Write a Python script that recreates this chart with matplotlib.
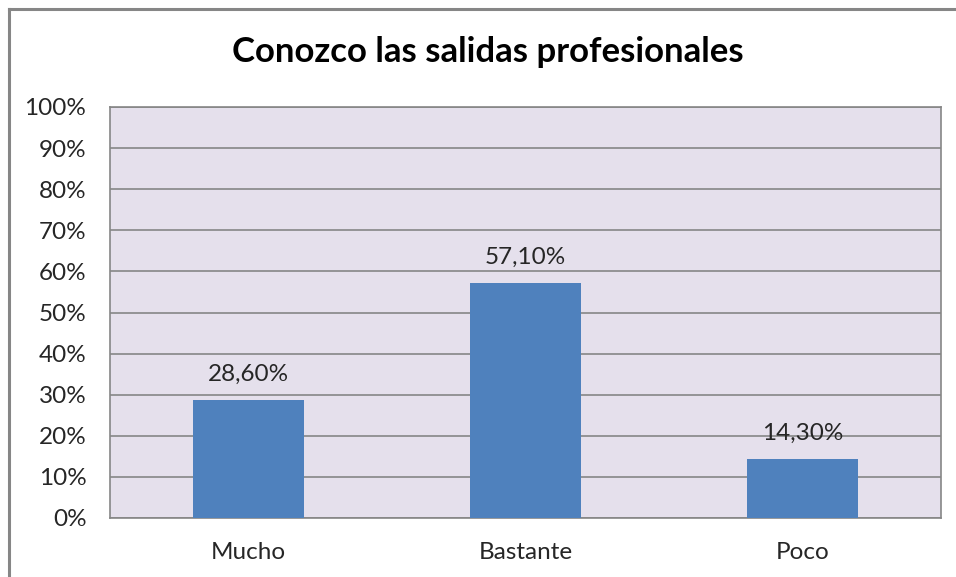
import matplotlib.pyplot as plt
import numpy as np
from matplotlib.lines import Line2D

categories = ['Mucho', 'Bastante', 'Poco']
values = [28.6, 57.1, 14.3]
labels = ['28,60%', '57,10%', '14,30%']
yticks = list(range(0, 101, 10))

plt.rcParams['font.family'] = ['Lato', 'DejaVu Sans']

fig = plt.figure(figsize=(9.56, 5.77), dpi=100)
W, H = 956, 577
ax = fig.add_axes([110 / W, 1 - 518 / H, (941 - 110) / W, (518 - 107) / H])

ax.set_facecolor('#E5E0EC')
x = np.arange(len(categories))
ax.bar(x, values, width=0.4, color='#4F81BD', zorder=3)
for xi, v, lab in zip(x, values, labels):
    ax.annotate(lab, (xi, v), xytext=(0, 11), textcoords='offset points',
                ha='center', va='bottom', fontsize=17.5, color='#262626')

ax.set_xlim(-0.5, 2.5)
ax.set_ylim(0, 100)
ax.set_yticks(yticks)
ax.set_yticklabels([f'{t}%' for t in yticks])
ax.set_xticks(x)
ax.set_xticklabels(categories)
ax.tick_params(axis='both', length=0, labelsize=17.5, colors='#262626')
ax.tick_params(axis='y', pad=17)
ax.tick_params(axis='x', pad=17)
ax.grid(axis='y', color='#868686', linewidth=1.2, zorder=1)
for s in ax.spines.values():
    s.set_color('#868686')
    s.set_linewidth(1.2)

fig.text(488 / W, 1 - 52 / H, 'Conozco las salidas profesionales',
         ha='center', va='center', fontsize=25, fontweight='bold', color='black')

# outer chart frame (only left and top edges are visible in the crop)
fig.add_artist(Line2D([8.5 / W, 8.5 / W], [0, 1 - 8.5 / H], color='#868686', linewidth=2.2,
                      transform=fig.transFigure))
fig.add_artist(Line2D([8.5 / W, 1], [1 - 8.5 / H, 1 - 8.5 / H], color='#868686', linewidth=2.2,
                      transform=fig.transFigure))

fig.savefig('out.png', dpi=100)
